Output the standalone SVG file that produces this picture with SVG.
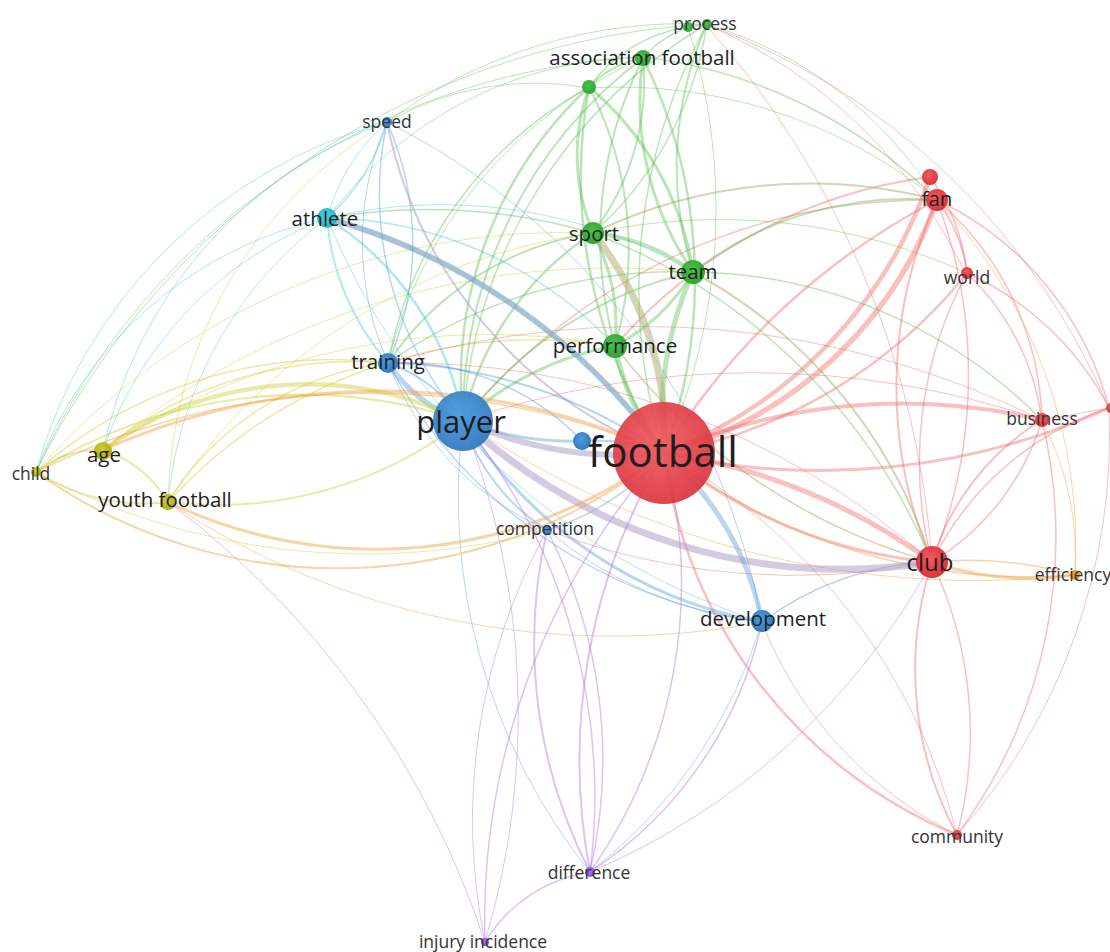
<svg xmlns="http://www.w3.org/2000/svg" width="1110" height="952" viewBox="0 0 1110 952">
<style>
.e{fill:none;stroke-linecap:round}
.r{stroke:#f25a5a;stroke-opacity:.38}
.g{stroke:#4cbb44;stroke-opacity:.38}
.b{stroke:#4690d8;stroke-opacity:.38}
.c{stroke:#38c6d6;stroke-opacity:.4}
.y{stroke:#cccc30;stroke-opacity:.42}
.o{stroke:#f4a040;stroke-opacity:.45}
.p{stroke:#b07ae8;stroke-opacity:.45}
.m{stroke:#a898c0;stroke-opacity:.5}
.k{stroke:#a9ab6a;stroke-opacity:.5}
.L{font-family:"Open Sans","Noto Sans","DejaVu Sans",sans-serif;fill:#1e1e1e;text-anchor:middle;dominant-baseline:central}
.s{font-size:17.5px;fill:#333}
.md{font-size:20.5px}
.nr{fill:url(#gr)}
.ng{fill:url(#gg)}
.nb{fill:url(#gb)}
.nc{fill:url(#gc)}
.ny{fill:url(#gy)}
.np{fill:url(#gp)}
.no{fill:url(#go)}
</style>
<defs>
<radialGradient id="gr" cx="45%" cy="40%" r="65%"><stop offset="0" stop-color="#f25a5e"/><stop offset="1" stop-color="#d8303c"/></radialGradient>
<radialGradient id="gg" cx="45%" cy="40%" r="65%"><stop offset="0" stop-color="#4cc24a"/><stop offset="1" stop-color="#2fa032"/></radialGradient>
<radialGradient id="gb" cx="45%" cy="40%" r="65%"><stop offset="0" stop-color="#4d9be0"/><stop offset="1" stop-color="#2f78bc"/></radialGradient>
<radialGradient id="gc" cx="45%" cy="40%" r="65%"><stop offset="0" stop-color="#45d0e0"/><stop offset="1" stop-color="#22b4c6"/></radialGradient>
<radialGradient id="gy" cx="45%" cy="40%" r="65%"><stop offset="0" stop-color="#cfcf30"/><stop offset="1" stop-color="#aaaa10"/></radialGradient>
<radialGradient id="gp" cx="45%" cy="40%" r="65%"><stop offset="0" stop-color="#a874ec"/><stop offset="1" stop-color="#8a4fd4"/></radialGradient>
<radialGradient id="go" cx="45%" cy="40%" r="65%"><stop offset="0" stop-color="#f8a640"/><stop offset="1" stop-color="#e8861a"/></radialGradient>
</defs>
<rect width="1110" height="952" fill="#ffffff"/>
<g id="connectors">
<path class="e g" stroke-width="1" d="M643 57 A700 700 0 0 0 36 472"/>
<path class="e g" stroke-width="1" d="M705 24 A800 800 0 0 0 36 472"/>
<path class="e g" stroke-width="1" d="M643 57 A400 400 0 0 0 326 220"/>
<path class="e g" stroke-width="1" d="M705 24 A500 500 0 0 0 387 122"/>
<path class="e g" stroke-width="1" d="M589 88 A300 300 0 0 0 387 122"/>
<path class="e r" stroke-width="1" d="M705 24 A700 700 0 0 1 1109 408"/>
<path class="e r" stroke-width="1" d="M705 24 A500 500 0 0 1 967 277"/>
<path class="e r" stroke-width="1" d="M705 24 A900 900 0 0 1 932 562"/>
<path class="e g" stroke-width="1" d="M705 24 A400 400 0 0 1 937 200"/>
<path class="e g" stroke-width="1.5" d="M643 57 A500 500 0 0 1 937 200"/>
<path class="e g" stroke-width="1" d="M589 88 A500 500 0 0 1 937 200"/>
<path class="e c" stroke-width="1" d="M327 218 A400 400 0 0 0 36 472"/>
<path class="e c" stroke-width="1" d="M327 218 A380 380 0 0 0 103 450"/>
<path class="e c" stroke-width="1" d="M327 218 A400 400 0 0 0 168 502"/>
<path class="e c" stroke-width="1" d="M387 122 A500 500 0 0 0 36 472"/>
<path class="e c" stroke-width="1" d="M387 122 A450 450 0 0 0 103 450"/>
<path class="e y" stroke-width="1" d="M387 122 A450 450 0 0 0 168 502"/>
<path class="e c" stroke-width="1" d="M327 218 A700 700 0 0 0 762 622"/>
<path class="e b" stroke-width="1" d="M387 122 A700 700 0 0 1 762 622"/>
<path class="e y" stroke-width="1" d="M36 472 A700 700 0 0 1 593 233"/>
<path class="e y" stroke-width="1" d="M168 502 A600 600 0 0 1 593 233"/>
<path class="e y" stroke-width="1" d="M103 450 A700 700 0 0 1 615 346"/>
<path class="e y" stroke-width="1.5" d="M168 502 A500 500 0 0 1 615 346"/>
<path class="e y" stroke-width="1" d="M103 450 A800 800 0 0 1 693 272"/>
<path class="e y" stroke-width="1" d="M36 472 A700 700 0 0 0 547 530"/>
<path class="e o" stroke-width="1" stroke-opacity=".3" d="M168 502 A800 800 0 0 0 762 622"/>
<path class="e o" stroke-width="1" d="M463 421 A900 900 0 0 0 1075 575"/>
<path class="e r" stroke-width="1" d="M463 421 A900 900 0 0 1 1042 420"/>
<path class="e r" stroke-width="1" d="M388 363 A900 900 0 0 1 1042 420"/>
<path class="e r" stroke-width="1" d="M388 363 A800 800 0 0 1 932 562"/>
<path class="e r" stroke-width="1" d="M547 530 A700 700 0 0 0 932 562"/>
<path class="e r" stroke-width="1" d="M957 835 A600 600 0 0 0 1109 408"/>
<path class="e r" stroke-width="1" d="M957 835 A400 400 0 0 1 762 622"/>
<path class="e r" stroke-width="1" d="M957 835 A600 600 0 0 0 664 453"/>
<path class="e p" stroke-width="1" d="M485 942 A900 900 0 0 0 168 502"/>
<path class="e p" stroke-width="1" d="M485 942 A800 800 0 0 0 463 421"/>
<path class="e p" stroke-width="1" d="M485 942 A600 600 0 0 1 547 530"/>
<path class="e p" stroke-width="1" d="M590 872 A700 700 0 0 0 932 562"/>
<path class="e b" stroke-width="1" d="M463 421 A600 600 0 0 0 590 872"/>
<path class="e b" stroke-width="1" d="M762 622 A500 500 0 0 1 590 872"/>
<path class="e r" stroke-width="2" d="M937 200 A150 150 0 0 1 967 273"/>
<path class="e r" stroke-width="1.5" d="M930 177 A200 200 0 0 1 967 273"/>
<path class="e r" stroke-width="2" d="M937 200 A450 450 0 0 0 932 562"/>
<path class="e r" stroke-width="1.5" d="M937 200 A500 500 0 0 1 932 562"/>
<path class="e r" stroke-width="1.5" d="M937 200 A300 300 0 0 1 1042 420"/>
<path class="e r" stroke-width="1.5" d="M937 200 A320 320 0 0 1 1109 408"/>
<path class="e r" stroke-width="1.5" d="M967 273 A400 400 0 0 0 932 562"/>
<path class="e r" stroke-width="1.5" d="M967 273 A250 250 0 0 1 1042 420"/>
<path class="e r" stroke-width="1.5" d="M967 273 A300 300 0 0 1 1109 408"/>
<path class="e r" stroke-width="2" d="M1042 420 A250 250 0 0 0 932 562"/>
<path class="e r" stroke-width="1.5" d="M1042 420 A250 250 0 0 1 932 562"/>
<path class="e r" stroke-width="1.5" d="M1109 408 A300 300 0 0 0 932 562"/>
<path class="e r" stroke-width="1" d="M1042 420 L1109 408"/>
<path class="e r" stroke-width="2" d="M932 562 A350 350 0 0 0 957 835"/>
<path class="e r" stroke-width="1.5" d="M932 562 A400 400 0 0 1 957 835"/>
<path class="e r" stroke-width="1.5" d="M957 835 A500 500 0 0 0 1042 420"/>
<path class="e r" stroke-width="2.5" d="M664 453 A480 480 0 0 0 957 835"/>
<path class="e r" stroke-width="1.5" d="M463 421 A600 600 0 0 1 937 200"/>
<path class="e r" stroke-width="2" d="M615 346 A500 500 0 0 1 930 177"/>
<path class="e r" stroke-width="2.5" d="M664 453 A500 500 0 0 0 967 273"/>
<path class="e r" stroke-width="3" d="M664 453 A700 700 0 0 0 1109 408"/>
<path class="e r" stroke-width="4" d="M664 453 A600 600 0 0 1 1042 420"/>
<path class="e r" stroke-width="3" d="M664 453 A500 500 0 0 0 932 562"/>
<path class="e r" stroke-width="5" d="M664 453 A600 600 0 0 1 932 562"/>
<path class="e r" stroke-width="2.5" d="M664 453 A700 700 0 0 1 937 200"/>
<path class="e r" stroke-width="4.5" d="M664 453 A450 450 0 0 0 930 177"/>
<path class="e r" stroke-width="5.5" d="M664 453 A400 400 0 0 0 937 200"/>
<path class="e o" stroke-width="1.5" d="M664 453 A600 600 0 0 0 1075 575"/>
<path class="e o" stroke-width="1" d="M937 200 A500 500 0 0 1 1075 575"/>
<path class="e o" stroke-width="1" d="M1042 420 A300 300 0 0 1 1075 575"/>
<path class="e o" stroke-width="1.5" d="M932 562 A400 400 0 0 1 1075 575"/>
<path class="e o" stroke-width="3" d="M932 562 A300 300 0 0 0 1075 575"/>
<path class="e k" stroke-width="2" d="M593 233 A500 500 0 0 1 937 200"/>
<path class="e g" stroke-width="2" d="M693 272 A350 350 0 0 1 937 200"/>
<path class="e k" stroke-width="2" d="M693 272 A500 500 0 0 1 932 562"/>
<path class="e g" stroke-width="1.5" d="M593 233 A600 600 0 0 1 932 562"/>
<path class="e g" stroke-width="1.5" d="M693 272 A500 500 0 0 1 1042 420"/>
<path class="e k" stroke-width="1.5" d="M615 346 A600 600 0 0 0 932 562"/>
<path class="e g" stroke-width="1" d="M593 233 A600 600 0 0 1 967 273"/>
<path class="e g" stroke-width="1.5" d="M593 233 A600 600 0 0 0 327 218"/>
<path class="e g" stroke-width="2" d="M593 233 A300 300 0 0 0 388 363"/>
<path class="e g" stroke-width="1.5" d="M693 272 A500 500 0 0 0 388 363"/>
<path class="e g" stroke-width="1.5" d="M589 87 A400 400 0 0 0 388 363"/>
<path class="e g" stroke-width="1" d="M643 58 A450 450 0 0 0 388 363"/>
<path class="e g" stroke-width="2.5" d="M589 87 A400 400 0 0 0 463 421"/>
<path class="e g" stroke-width="2" d="M643 58 A450 450 0 0 0 463 421"/>
<path class="e g" stroke-width="1.5" d="M707 24 A500 500 0 0 0 463 421"/>
<path class="e g" stroke-width="2.5" d="M589 87 A500 500 0 0 0 664 453"/>
<path class="e g" stroke-width="2.5" d="M643 58 A500 500 0 0 1 664 453"/>
<path class="e g" stroke-width="1.5" d="M707 24 A550 550 0 0 0 664 453"/>
<path class="e g" stroke-width="1" d="M688 27 A600 600 0 0 1 664 453"/>
<path class="e g" stroke-width="2" d="M589 87 A100 100 0 0 1 643 58"/>
<path class="e g" stroke-width="1.5" d="M643 58 A100 100 0 0 1 707 24"/>
<path class="e g" stroke-width="1.5" d="M589 87 A150 150 0 0 1 688 27"/>
<path class="e g" stroke-width="3" d="M593 233 A200 200 0 0 1 589 87"/>
<path class="e g" stroke-width="2" d="M593 233 A250 250 0 0 0 643 58"/>
<path class="e g" stroke-width="3" d="M693 272 A300 300 0 0 1 643 58"/>
<path class="e g" stroke-width="3" d="M693 272 A300 300 0 0 0 589 87"/>
<path class="e g" stroke-width="2" d="M693 272 A350 350 0 0 1 707 24"/>
<path class="e g" stroke-width="1.5" d="M593 233 A350 350 0 0 0 707 24"/>
<path class="e g" stroke-width="2" d="M615 346 A350 350 0 0 0 589 87"/>
<path class="e g" stroke-width="2" d="M615 346 A400 400 0 0 1 643 58"/>
<path class="e g" stroke-width="2.5" d="M593 233 A300 300 0 0 0 463 421"/>
<path class="e g" stroke-width="2" d="M693 272 A400 400 0 0 0 463 421"/>
<path class="e g" stroke-width="3" d="M615 346 A300 300 0 0 0 463 421"/>
<path class="e g" stroke-width="4" d="M593 233 A200 200 0 0 1 693 272"/>
<path class="e g" stroke-width="3" d="M693 272 A200 200 0 0 1 615 346"/>
<path class="e g" stroke-width="3" d="M593 233 A200 200 0 0 1 615 346"/>
<path class="e g" stroke-width="5" d="M615 346 A250 250 0 0 0 664 453"/>
<path class="e g" stroke-width="5" d="M693 272 A350 350 0 0 0 664 453"/>
<path class="e k" stroke-width="7" d="M593 233 A320 320 0 0 1 664 453"/>
<path class="e c" stroke-width="1.5" d="M327 218 A400 400 0 0 1 615 346"/>
<path class="e c" stroke-width="1" d="M327 218 A500 500 0 0 1 693 272"/>
<path class="e c" stroke-width="1.5" d="M327 218 A200 200 0 0 0 387 122"/>
<path class="e c" stroke-width="1" d="M327 218 A200 200 0 0 1 387 122"/>
<path class="e c" stroke-width="2" d="M327 218 A250 250 0 0 0 388 363"/>
<path class="e c" stroke-width="2.5" d="M327 218 A300 300 0 0 1 463 421"/>
<path class="e c" stroke-width="6" stroke-opacity=".32" d="M327 218 A620 620 0 0 1 664 453"/>
<path class="e m" stroke-width="5" stroke-opacity=".28" d="M327 218 A620 620 0 0 1 664 453"/>
<path class="e b" stroke-width="1.5" d="M387 122 A350 350 0 0 0 463 421"/>
<path class="e b" stroke-width="1.5" d="M387 122 A300 300 0 0 1 388 363"/>
<path class="e b" stroke-width="1" d="M387 122 A300 300 0 0 0 388 363"/>
<path class="e m" stroke-width="2" d="M387 122 A450 450 0 0 0 664 453"/>
<path class="e b" stroke-width="2" d="M388 363 A500 500 0 0 1 664 453"/>
<path class="e b" stroke-width="1.5" d="M388 363 A500 500 0 0 0 762 622"/>
<path class="e b" stroke-width="1" d="M388 363 A300 300 0 0 0 547 530"/>
<path class="e b" stroke-width="1.5" d="M388 363 A250 250 0 0 1 582 441"/>
<path class="e b" stroke-width="1.5" d="M762 622 A300 300 0 0 1 932 562"/>
<path class="e b" stroke-width="1" d="M547 530 A400 400 0 0 0 762 622"/>
<path class="e b" stroke-width="1.5" d="M547 530 A250 250 0 0 0 664 453"/>
<path class="e b" stroke-width="2" d="M463 421 A200 200 0 0 0 547 530"/>
<path class="e b" stroke-width="3" d="M463 421 A450 450 0 0 0 762 622"/>
<path class="e b" stroke-width="5" d="M664 453 A300 300 0 0 1 762 622"/>
<path class="e b" stroke-width="2" d="M463 421 A150 150 0 0 0 388 363"/>
<path class="e b" stroke-width="5" d="M463 421 A150 150 0 0 1 388 363"/>
<path class="e b" stroke-width="2" d="M582 441 A200 200 0 0 1 664 453"/>
<path class="e b" stroke-width="3" d="M463 421 A300 300 0 0 0 582 441"/>
<path class="e m" stroke-width="6" d="M463 421 A400 400 0 0 0 664 453"/>
<path class="e m" stroke-width="7" d="M463 421 A560 560 0 0 0 932 562"/>
<path class="e y" stroke-width="2" d="M103 450 A100 100 0 0 0 36 472"/>
<path class="e y" stroke-width="2" d="M103 450 A120 120 0 0 1 168 502"/>
<path class="e y" stroke-width="2" d="M36 472 A200 200 0 0 0 168 502"/>
<path class="e y" stroke-width="1.5" d="M103 450 A400 400 0 0 1 388 363"/>
<path class="e y" stroke-width="1.5" d="M36 472 A450 450 0 0 1 388 363"/>
<path class="e y" stroke-width="1.5" d="M168 502 A300 300 0 0 1 388 363"/>
<path class="e y" stroke-width="2" d="M36 472 A500 500 0 0 1 463 421"/>
<path class="e y" stroke-width="2" d="M168 502 A400 400 0 0 0 463 421"/>
<path class="e y" stroke-width="4.5" d="M103 450 A350 350 0 0 1 463 421"/>
<path class="e o" stroke-width="1.5" d="M36 472 A750 750 0 0 1 664 453"/>
<path class="e o" stroke-width="3" d="M103 450 A680 680 0 0 1 664 453"/>
<path class="e o" stroke-width="2" d="M36 472 A520 520 0 0 0 664 453"/>
<path class="e o" stroke-width="3" d="M168 502 A480 480 0 0 0 664 453"/>
<path class="e p" stroke-width="1.5" d="M590 872 A150 150 0 0 0 485 942"/>
<path class="e p" stroke-width="1.5" d="M485 942 A700 700 0 0 1 664 453"/>
<path class="e p" stroke-width="1.5" d="M590 872 A400 400 0 0 0 762 622"/>
<path class="e p" stroke-width="2" d="M590 872 A500 500 0 0 1 547 530"/>
<path class="e p" stroke-width="1.5" d="M590 872 A500 500 0 0 0 547 530"/>
<path class="e p" stroke-width="1.5" d="M590 872 A600 600 0 0 0 463 421"/>
<path class="e p" stroke-width="1.5" d="M590 872 A500 500 0 0 0 664 453"/>
<path class="e p" stroke-width="2" d="M590 872 A600 600 0 0 1 664 453"/>
</g>
<g id="node-process"><circle class="ng" cx="688" cy="27" r="5"/><circle class="ng" cx="707" cy="24" r="5"/><text class="L s" x="705" y="23">process</text></g>
<g id="node-association-football"><circle class="ng" cx="643" cy="58" r="8"/><text class="L md" x="642" y="57">association football</text></g>
<g id="node-green-small"><circle class="ng" cx="589" cy="87" r="7"/></g>
<g id="node-speed"><circle class="nb" cx="387" cy="122" r="5"/><text class="L s" x="387" y="121">speed</text></g>
<g id="node-athlete"><circle class="nc" cx="327" cy="218" r="10"/><text class="L md" x="325" y="218">athlete</text></g>
<g id="node-sport"><circle class="ng" cx="593" cy="233" r="11"/><text class="L md" x="594" y="233">sport</text></g>
<g id="node-team"><circle class="ng" cx="693" cy="272" r="12"/><text class="L md" x="693" y="271">team</text></g>
<g id="node-performance"><circle class="ng" cx="615" cy="346" r="12"/><text class="L md" x="615" y="345">performance</text></g>
<g id="node-training"><circle class="nb" cx="388" cy="363" r="10"/><text class="L md" x="388" y="361">training</text></g>
<g id="node-player"><circle class="nb" cx="463" cy="421" r="30" opacity=".95"/><text class="L" style="font-size:31px" x="461" y="421">player</text></g>
<g id="node-blue-small"><circle class="nb" cx="582" cy="441" r="9"/></g>
<g id="node-football"><circle class="nr" cx="664" cy="453" r="51" opacity=".92"/><text class="L" style="font-size:42px" x="663" y="450">football</text></g>
<g id="node-fan"><circle class="nr" cx="930" cy="177" r="8"/><circle class="nr" cx="937" cy="200" r="11"/><text class="L md" x="937" y="198">fan</text></g>
<g id="node-world"><circle class="nr" cx="967" cy="273" r="6"/><text class="L s" x="967" y="277">world</text></g>
<g id="node-business"><circle class="nr" cx="1042" cy="420" r="7"/><text class="L s" x="1042" y="418">business</text></g>
<g id="node-edge-right"><circle class="nr" cx="1111" cy="408" r="5"/></g>
<g id="node-club"><circle class="nr" cx="932" cy="562" r="16"/><text class="L" style="font-size:24px" x="930" y="561">club</text></g>
<g id="node-efficiency"><circle class="no" cx="1075" cy="575" r="5"/><text class="L s" x="1073" y="574">efficiency</text></g>
<g id="node-development"><circle class="nb" cx="762" cy="621" r="11"/><text class="L md" x="763" y="618">development</text></g>
<g id="node-competition"><circle class="nb" cx="547" cy="530" r="5"/><text class="L s" x="545" y="528">competition</text></g>
<g id="node-age"><circle class="ny" cx="103" cy="451" r="9"/><text class="L md" x="104" y="454">age</text></g>
<g id="node-child"><circle class="ny" cx="36" cy="472" r="5"/><text class="L s" x="31" y="473">child</text></g>
<g id="node-youth-football"><circle class="ny" cx="168" cy="502" r="8"/><text class="L md" x="165" y="499">youth football</text></g>
<g id="node-community"><circle class="nr" cx="957" cy="835" r="5"/><text class="L s" x="957" y="836">community</text></g>
<g id="node-difference"><circle class="np" cx="590" cy="872" r="5"/><text class="L s" x="589" y="872">difference</text></g>
<g id="node-injury-incidence"><circle class="np" cx="485" cy="942" r="4"/><text class="L s" x="483" y="941">injury incidence</text></g>
</svg>
